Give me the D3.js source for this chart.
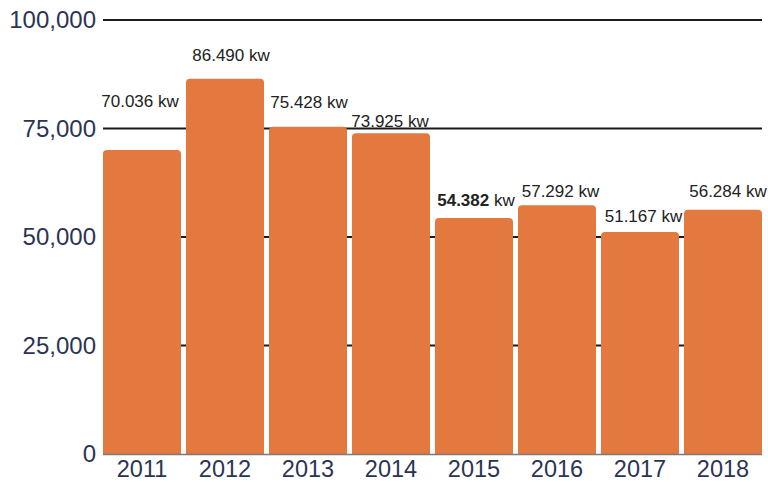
<html>
<head>
  <meta charset="UTF-8">
  <title>Yearly kw</title>
  <script src="https://d3js.org/d3.v7.min.js"></script>
  <style>
    body { margin: 0; background: white; }
    svg { display: block; font-family: "Liberation Sans", Arial, sans-serif; }
  </style>
</head>
<body>
  <svg id="chart"></svg>

  <script>
    // data
    let years = ["2011", "2012", "2013", "2014", "2015", "2016", "2017", "2018"];
    let kw = [70036, 86490, 75428, 73925, 54382, 57292, 51167, 56284];
    let yTicks = [0, 25000, 50000, 75000, 100000];
    let highlightYear = "2015";

    // hand placed label nudges (dx from bar centre, lift above bar top)
    let labelNudge = {
      "2011": [-2, 43], "2012": [6, 18], "2013": [1, 18.5], "2014": [-1, 6],
      "2015": [2, 12], "2016": [3.5, 8.5], "2017": [3.5, 9.5], "2018": [5, 12.5]
    };

    let width = 768;
    let height = 482;
    let margin = { top: 20, right: 6, bottom: 28, left: 103 };

    let svg = d3.select("#chart")
                .attr("width", width)
                .attr("height", height);

    let data = years.map((y, i) => ({ year: y, value: kw[i] }));

    let x = d3.scaleBand()
              .domain(years)
              .range([margin.left, width - margin.right])
              .paddingInner(0.06)
              .paddingOuter(0);

    let y = d3.scaleLinear()
              .domain([0, 100000])
              .range([height - margin.bottom, margin.top]);

    // gridlines
    svg.append("g").selectAll("line")
       .data(yTicks.filter(t => t > 0))
       .join("line")
       .attr("x1", margin.left)
       .attr("x2", width - margin.right)
       .attr("y1", d => y(d))
       .attr("y2", d => y(d))
       .attr("stroke", "#1a1a1a")
       .attr("stroke-width", 2);

    // y axis labels
    let yAxis = d3.axisLeft(y).tickValues(yTicks).tickFormat(d3.format(",")).tickSize(0).tickPadding(7);
    let gy = svg.append("g")
                .attr("transform", `translate(${margin.left},0)`)
                .call(yAxis);
    gy.select(".domain").remove();
    gy.selectAll("text")
      .attr("font-family", "Liberation Sans, Arial, sans-serif")
      .attr("font-size", 24)
      .attr("fill", "#2b3553");

    // bars with rounded tops
    let r = 4;
    function barPath(d) {
      let x0 = x(d.year), x1 = x0 + x.bandwidth();
      let y0 = y(0), y1 = y(d.value);
      return `M${x0},${y0} V${y1 + r} Q${x0},${y1} ${x0 + r},${y1} H${x1 - r} Q${x1},${y1} ${x1},${y1 + r} V${y0} Z`;
    }
    svg.append("g").selectAll("path")
       .data(data)
       .join("path")
       .attr("d", barPath)
       .attr("fill", "#e3793e");

    // baseline
    svg.append("line")
       .attr("x1", margin.left)
       .attr("x2", width - margin.right)
       .attr("y1", y(0) + 0.5)
       .attr("y2", y(0) + 0.5)
       .attr("stroke", "#7a7a7a")
       .attr("stroke-width", 1.5);

    // x axis labels
    let xAxis = d3.axisBottom(x).tickSize(0).tickPadding(6);
    let gx = svg.append("g")
                .attr("transform", `translate(0,${y(0)})`)
                .call(xAxis);
    gx.select(".domain").remove();
    gx.selectAll("text")
      .attr("font-family", "Liberation Sans, Arial, sans-serif")
      .attr("font-size", 23.5)
      .attr("fill", "#2b3553");

    // value labels
    let dotFormat = d3.formatLocale({ decimal: ",", thousands: ".", grouping: [3], currency: ["", ""] }).format(",");
    let labels = svg.append("g").selectAll("text")
                    .data(data)
                    .join("text")
                    .attr("x", d => x(d.year) + x.bandwidth() / 2 + labelNudge[d.year][0])
                    .attr("y", d => y(d.value) - labelNudge[d.year][1])
                    .attr("text-anchor", "middle")
                    .attr("font-size", 17)
                    .attr("fill", "#222");
    labels.append("tspan")
          .attr("font-weight", d => d.year === highlightYear ? "bold" : "normal")
          .text(d => dotFormat(d.value));
    labels.append("tspan")
          .text(" kw");
  </script>
</body>
</html>
